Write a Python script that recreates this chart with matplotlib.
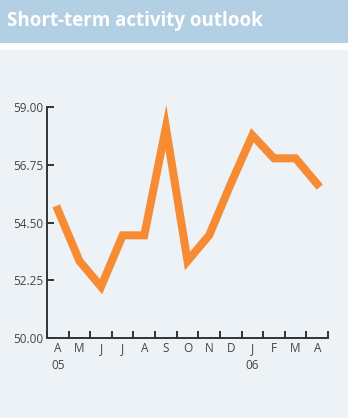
import matplotlib.pyplot as plt
from matplotlib.patches import Rectangle

months = ['A', 'M', 'J', 'J', 'A', 'S', 'O', 'N', 'D', 'J', 'F', 'M', 'A']
years = ['05', '', '', '', '', '', '', '', '', '06', '', '', '']
values = [55.0, 53.0, 52.0, 54.0, 54.0, 58.2, 53.0, 54.0, 56.0, 57.9, 57.0, 57.0, 56.0]
yticks = [50.00, 52.25, 54.50, 56.75, 59.00]

plt.rcParams['font.family'] = ['Open Sans', 'DejaVu Sans']

fig = plt.figure(figsize=(3.48, 4.18), dpi=100)
fig.patch.set_facecolor('white')

# background panels
fig.patches.append(Rectangle((0, 0), 1, 1 - 50/418, transform=fig.transFigure,
                             facecolor='#edf2f7', edgecolor='none', zorder=-10))
fig.patches.append(Rectangle((0, 1 - 43/418), 1, 43/418, transform=fig.transFigure,
                             facecolor='#b3cfe3', edgecolor='none', zorder=-10))
fig.text(7/348, 1 - 21/418, 'Short-term activity outlook', color='white',
         fontsize=13.5, fontweight='bold', va='center', ha='left')

ax = fig.add_axes([47/348, 1 - 338/418, 281/348, 231/418])
ax.set_facecolor('none')
x = list(range(len(values)))
ax.plot(x, values, color='#f68b34', linewidth=5.8, solid_joinstyle='miter', clip_on=False)

ax.set_xlim(-0.5, len(values) - 0.5)
ax.set_ylim(50, 59)
ax.set_yticks(yticks)
ax.set_yticklabels(['%.2f' % v for v in yticks])

ax.set_xticks([i + 0.5 for i in range(-1, len(values))])
ax.set_xticklabels([])
ax.set_xticks(x, minor=True)
ax.set_xticklabels([m + '\n' + y for m, y in zip(months, years)], minor=True)
ax.tick_params(axis='x', which='minor', length=0, pad=3)

for s in ['top', 'right']:
    ax.spines[s].set_visible(False)
for s in ['left', 'bottom']:
    ax.spines[s].set_color('#333333')
    ax.spines[s].set_linewidth(1.4)
ax.tick_params(axis='both', which='major', direction='in', length=5, width=1.4,
               color='#333333')
ax.tick_params(axis='y', pad=3)
ax.tick_params(axis='both', which='both', labelsize=8.5, labelcolor='#444444')
for lab in ax.get_xticklabels(minor=True):
    lab.set_linespacing(1.4)
    lab.set_horizontalalignment('center')

fig.savefig('out.png', dpi=100)
